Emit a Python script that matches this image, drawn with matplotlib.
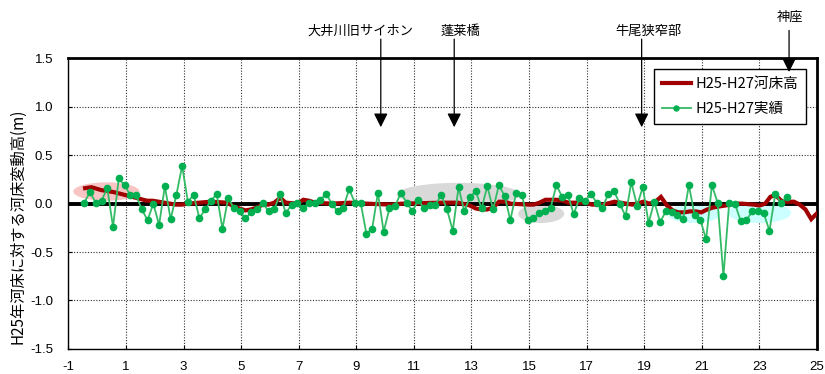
import numpy as np
import matplotlib
matplotlib.use("Agg")
import matplotlib.pyplot as plt
from matplotlib.patches import Ellipse

plt.rcParams['font.family'] = ['Noto Sans CJK JP', 'DejaVu Sans']
plt.rcParams['axes.unicode_minus'] = False

# ---------------- data ----------------
green_km = [
    -0.45, -0.25, -0.05, 0.15, 0.35, 0.55, 0.75, 0.95, 1.15, 1.35,
    1.55, 1.75, 1.95, 2.15, 2.35, 2.55, 2.75, 2.95, 3.15, 3.35,
    3.55, 3.75, 3.95, 4.15, 4.35, 4.55, 4.75, 4.95, 5.15, 5.35,
    5.55, 5.75, 5.95, 6.15, 6.35, 6.55, 6.75, 6.95, 7.15, 7.35,
    7.55, 7.75, 7.95, 8.15, 8.35, 8.55, 8.75, 8.95, 9.15, 9.35,
    9.55, 9.75, 9.95, 10.15, 10.35, 10.55, 10.75, 10.95, 11.15, 11.35,
    11.55, 11.75, 11.95, 12.15, 12.35, 12.55, 12.75, 12.95, 13.15, 13.35,
    13.55, 13.75, 13.95, 14.15, 14.35, 14.55, 14.75, 14.95, 15.15, 15.35,
    15.55, 15.75, 15.95, 16.15, 16.35, 16.55, 16.75, 16.95, 17.15, 17.35,
    17.55, 17.75, 17.95, 18.15, 18.35, 18.55, 18.75, 18.95, 19.15, 19.35,
    19.55, 19.75, 19.95, 20.15, 20.35, 20.55, 20.75, 20.95, 21.15, 21.35,
    21.55, 21.75, 21.95, 22.15, 22.35, 22.55, 22.75, 22.95, 23.15, 23.35,
    23.55, 23.75, 23.95,
]
green_vals = [
    0.01, 0.12, 0.01, 0.03, 0.16, -0.24, 0.26, 0.19, 0.09, 0.09,
    -0.06, -0.17, 0.00, -0.22, 0.18, -0.16, 0.09, 0.39, 0.02, 0.09,
    -0.15, -0.06, 0.03, 0.10, -0.26, 0.06, -0.05, -0.08, -0.15, -0.09,
    -0.06, 0.01, -0.08, -0.06, 0.10, -0.10, -0.01, 0.01, -0.05, 0.01,
    0.01, 0.04, 0.10, 0.00, -0.08, -0.04, 0.15, 0.01, 0.01, -0.31,
    -0.26, 0.11, -0.29, -0.05, -0.02, 0.11, 0.01, -0.08, 0.04, -0.05,
    -0.01, -0.01, 0.09, -0.06, -0.28, 0.17, -0.08, 0.07, 0.13, -0.05,
    0.18, -0.06, 0.19, 0.08, -0.17, 0.11, 0.09, -0.17, -0.15, -0.10,
    -0.08, -0.04, 0.19, 0.07, 0.09, -0.11, 0.06, 0.03, 0.10, 0.01,
    -0.04, 0.10, 0.13, 0.00, -0.13, 0.22, -0.02, 0.17, -0.20, 0.02,
    -0.19, -0.08, -0.09, -0.12, -0.16, 0.19, -0.12, -0.17, -0.37, 0.19,
    0.01, -0.75, 0.01, 0.00, -0.18, -0.17, -0.08, -0.08, -0.10, -0.28,
    0.10, 0.01, 0.07,
]

red_km = [
    -0.42, -0.20, 0.14, 0.56, 0.96, 1.35, 1.73, 1.93, 2.33, 2.73,
    2.95, 3.14, 3.54, 3.94, 4.53, 4.74, 4.94, 5.15, 5.34, 5.55,
    5.75, 5.94, 6.15, 6.36, 6.55, 6.96, 7.16, 7.36, 7.57, 8.16,
    8.76, 9.36, 10.17, 10.58, 11.98, 12.54, 12.95, 13.15, 13.34, 13.55,
    13.75, 13.96, 14.15, 14.36, 14.97, 15.16, 15.36, 15.57, 15.96, 16.16,
    16.37, 16.97, 17.18, 17.58, 17.97, 18.17, 18.58, 18.98, 19.18, 19.39,
    19.58, 19.79, 19.99, 20.18, 20.39, 20.59, 20.79, 20.98, 21.19, 21.39,
    21.59, 21.80, 22.00, 22.20, 22.40, 22.80, 23.00, 23.20, 23.38, 23.55,
    23.76, 23.97, 24.20, 24.40, 24.60, 24.80, 25.00,
]
red_vals = [
    0.16, 0.17, 0.14, 0.12, 0.09, 0.06, 0.03, 0.03, 0.01, -0.01,
    -0.01, 0.00, 0.01, 0.02, 0.01, -0.03, -0.05, -0.07, -0.06, -0.04,
    -0.01, -0.01, 0.01, 0.06, 0.01, 0.00, 0.04, 0.03, 0.01, 0.00,
    0.01, 0.00, -0.01, 0.00, 0.01, 0.01, -0.02, -0.05, -0.06, -0.06,
    -0.04, 0.02, 0.02, 0.00, -0.01, -0.01, 0.01, 0.04, 0.04, 0.03,
    0.01, 0.01, -0.01, -0.01, 0.02, 0.01, -0.01, 0.02, 0.00, 0.02,
    0.07, -0.02, -0.07, -0.09, -0.09, -0.08, -0.08, -0.09, -0.06, -0.04,
    -0.03, -0.02, -0.01, 0.00, 0.00, -0.01, -0.02, 0.00, 0.07, 0.09,
    0.03, 0.02, 0.02, -0.01, -0.06, -0.16, -0.10,
]

x_ticks = [-1, 1, 3, 5, 7, 9, 11, 13, 15, 17, 19, 21, 23, 25]
y_ticks = [-1.5, -1.0, -0.5, 0.0, 0.5, 1.0, 1.5]

places = ['大井川旧サイホン', '蓬莱橋', '牛尾狭窄部', '神座']
place_km = [9.85, 12.40, 18.91, 24.03]

series_labels = ['H25-H27河床高', 'H25-H27実績']
ylabel = 'H25年河床に対する河床変動高(m)'

# ---------------- figure ----------------
fig = plt.figure(figsize=(8.25, 3.74), dpi=100)
ax = fig.add_axes([0.0829, 0.0674, 0.9074, 0.7762])

ax.set_xlim(-1, 25)
ax.set_ylim(-1.5, 1.5)
ax.set_xticks(x_ticks)
ax.set_yticks(y_ticks)
num_font = ['Liberation Sans', 'DejaVu Sans']
ax.set_xticklabels([str(t) for t in x_ticks], fontsize=9.5, family=num_font)
ax.set_yticklabels([f'{t:.1f}' for t in y_ticks], fontsize=9.5, family=num_font)
ax.tick_params(axis='y', direction='in', length=3, width=0.8, pad=11)
ax.tick_params(axis='x', direction='in', length=3, width=0.8, pad=9)

ax.grid(True, color='0.2', linestyle=(0, (1, 1.5)), linewidth=0.8, zorder=0)
ax.set_axisbelow(True)

for side in ['left', 'bottom']:
    ax.spines[side].set_linewidth(1.0)
for side in ['top', 'right']:
    ax.spines[side].set_linewidth(2.0)

# highlight ellipses
ells = [
    ((0.32, 0.125), 2.3, 0.19, '#f8c4c4'),
    ((12.55, 0.095), 4.3, 0.24, '#d9d9d9'),
    ((15.42, -0.105), 1.6, 0.19, '#d9d9d9'),
    ((20.72, -0.105), 1.85, 0.19, '#ccffff'),
    ((23.0, -0.095), 2.2, 0.21, '#ccffff'),
]
for (cx, cy), w, h, c in ells:
    ax.add_patch(Ellipse((cx, cy), w, h, facecolor=c, edgecolor='none', zorder=1))

ax.axhline(0, color='black', linewidth=2.8, zorder=2)

ax.plot(red_km, red_vals, color='#a00000', linewidth=3.0, zorder=3,
        label=series_labels[0], solid_joinstyle='miter')
ax.plot(green_km, green_vals, color='#33bb66', linewidth=1.3, marker='o',
        markersize=4.5, markerfacecolor='#00b050', markeredgecolor='#00b050',
        zorder=4, label=series_labels[1])

fig.text(0.022, 0.395, ylabel, rotation=90, ha='center', va='center', fontsize=11)

leg = ax.legend(loc='upper left', bbox_to_anchor=(0.772, 0.99), fontsize=10.5,
                frameon=True, fancybox=False, edgecolor='black', framealpha=1,
                handlelength=2.0, handletextpad=0.3, labelspacing=0.8,
                borderpad=0.55, markerscale=0.8)
leg.get_frame().set_linewidth(1.0)
leg.set_zorder(5)

# place annotations
text_pos = [(9.16, 1.78), (12.60, 1.78), (19.13, 1.78), (24.07, 1.93)]
arrow_top = [1.70, 1.70, 1.70, 1.79]
arrow_tip = [0.79, 0.79, 0.79, 1.36]
for name, km, (tx, ty), a0, a1 in zip(places, place_km, text_pos, arrow_top, arrow_tip):
    ax.text(tx, ty, name, ha='center', va='center', fontsize=9.5, clip_on=False, zorder=7)
    ax.annotate('', xy=(km, a1), xytext=(km, a0), xycoords='data', textcoords='data',
                annotation_clip=False, zorder=8,
                arrowprops=dict(arrowstyle='-|>,head_length=0.6,head_width=0.3',
                                color='black', lw=0.9, mutation_scale=14,
                                shrinkA=0, shrinkB=0))

fig.savefig('out.png', dpi=100)
